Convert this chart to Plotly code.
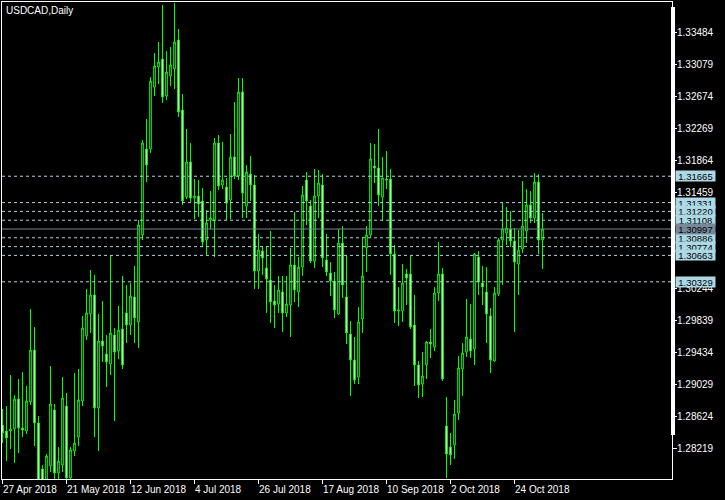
import plotly.graph_objects as go

# ---------------- data ----------------
symbol_title = "USDCAD,Daily"

opens = [1.28517, 1.28440, 1.28440, 1.28466, 1.28845, 1.28479, 1.28440, 1.28808, 1.29465, 1.28542,
         1.27959, 1.27769, 1.27997, 1.28706, 1.27909, 1.28010, 1.28757, 1.27846, 1.28187, 1.28364,
         1.28820, 1.29643, 1.29921, 1.30162, 1.28732, 1.29579, 1.29414, 1.29288, 1.29656, 1.29452,
         1.29731, 1.29934, 1.29782, 1.30136, 1.29820, 1.30921, 1.32009, 1.32009, 1.32793, 1.33047,
         1.33148, 1.32680, 1.32933, 1.33022, 1.33389, 1.32503, 1.31401, 1.31845, 1.31389, 1.31414,
         1.31351, 1.30858, 1.31111, 1.31098, 1.32085, 1.31554, 1.31528, 1.31364, 1.31908, 1.31667,
         1.32731, 1.31288, 1.31692, 1.31554, 1.30465, 1.30718, 1.30503, 1.30351, 1.30085, 1.30047,
         1.30200, 1.29934, 1.30035, 1.30541, 1.30200, 1.30515, 1.31617, 1.31288, 1.30591, 1.31414,
         1.31554, 1.30604, 1.30440, 1.30338, 1.29921, 1.30820, 1.30136, 1.29668, 1.29339, 1.29123,
         1.29858, 1.30757, 1.30921, 1.31794, 1.31769, 1.31401, 1.31629, 1.31629, 1.30680, 1.29959,
         1.29959, 1.30427, 1.30427, 1.29782, 1.29276, 1.29035, 1.29276, 1.29567, 1.29503, 1.30187,
         1.30427, 1.28504, 1.28237, 1.28263, 1.28668, 1.29225, 1.29440, 1.29605, 1.29478, 1.30642,
         1.30313, 1.30200, 1.29896, 1.29326, 1.30174, 1.30858, 1.30946, 1.30997, 1.30845, 1.30553,
         1.30744, 1.30971, 1.31301, 1.31136, 1.31592, 1.30858]

highs = [1.28719, 1.28757, 1.29149, 1.28896, 1.29098, 1.29187, 1.29010, 1.29984, 1.29756, 1.28630,
         1.28010, 1.28149, 1.29263, 1.28782, 1.28237, 1.29123, 1.28921, 1.28237, 1.29174, 1.29225,
         1.29896, 1.30237, 1.30478, 1.30415, 1.29921, 1.30085, 1.29656, 1.30668, 1.29744, 1.30022,
         1.30402, 1.30288, 1.30313, 1.30528, 1.31111, 1.32123, 1.32389, 1.32920, 1.33224, 1.33364,
         1.33832, 1.33249, 1.33300, 1.33857, 1.33528, 1.32705, 1.32262, 1.32085, 1.31629, 1.31617,
         1.31516, 1.31237, 1.31477, 1.32149, 1.32187, 1.32098, 1.31642, 1.32199, 1.32604, 1.32908,
         1.32908, 1.31807, 1.31921, 1.31680, 1.30933, 1.30782, 1.30782, 1.30971, 1.30288, 1.30402,
         1.30402, 1.30402, 1.30757, 1.31212, 1.30642, 1.31541, 1.31718, 1.31364, 1.31756, 1.31743,
         1.31692, 1.30933, 1.30579, 1.30453, 1.30997, 1.31035, 1.30668, 1.29832, 1.29630, 1.30009,
         1.30895, 1.31035, 1.32085, 1.32072, 1.32262, 1.31908, 1.31984, 1.31756, 1.30795, 1.30262,
         1.30553, 1.30491, 1.30655, 1.30162, 1.29326, 1.29440, 1.29579, 1.29731, 1.30262, 1.30833,
         1.30503, 1.28870, 1.28415, 1.28833, 1.29389, 1.29554, 1.30111, 1.30047, 1.30693, 1.30718,
         1.30528, 1.30515, 1.29997, 1.30262, 1.30883, 1.31326, 1.31275, 1.31224, 1.31010, 1.30984,
         1.31604, 1.31503, 1.31477, 1.31705, 1.31692, 1.31199]

lows = [1.28288, 1.28060, 1.28212, 1.28035, 1.28162, 1.28364, 1.28402, 1.28770, 1.28250, 1.27694,
        1.27669, 1.27694, 1.27922, 1.27795, 1.27795, 1.27922, 1.27769, 1.27795, 1.28124, 1.28250,
        1.28757, 1.29592, 1.29681, 1.28364, 1.28187, 1.29314, 1.28997, 1.29149, 1.28567, 1.29351,
        1.29225, 1.29554, 1.29656, 1.29554, 1.29491, 1.30858, 1.31592, 1.31959, 1.32680, 1.32831,
        1.32591, 1.32629, 1.32806, 1.32768, 1.32414, 1.31301, 1.31376, 1.31339, 1.31123, 1.31148,
        1.30769, 1.30668, 1.30997, 1.30642, 1.31490, 1.31503, 1.31111, 1.31123, 1.31629, 1.31617,
        1.31136, 1.31136, 1.31351, 1.30237, 1.30237, 1.30415, 1.29934, 1.29807, 1.29744, 1.29934,
        1.29694, 1.29883, 1.29630, 1.30073, 1.30009, 1.30402, 1.31048, 1.30566, 1.30503, 1.31136,
        1.30515, 1.30402, 1.30149, 1.29871, 1.29909, 1.30124, 1.29541, 1.28883, 1.29035, 1.29035,
        1.29681, 1.30453, 1.30895, 1.31579, 1.31288, 1.31098, 1.31503, 1.30415, 1.29807, 1.29769,
        1.29820, 1.30035, 1.29731, 1.29010, 1.28858, 1.28870, 1.29098, 1.29364, 1.29452, 1.30085,
        1.29073, 1.27846, 1.28010, 1.28086, 1.28580, 1.28883, 1.29376, 1.29364, 1.29276, 1.30162,
        1.30035, 1.29554, 1.29174, 1.29314, 1.30149, 1.30288, 1.30795, 1.30769, 1.29694, 1.30162,
        1.30693, 1.30820, 1.31073, 1.31073, 1.30680, 1.30491]

closes = [1.28415, 1.28352, 1.28466, 1.28845, 1.28479, 1.28453, 1.28820, 1.29465, 1.28542, 1.27769,
          1.27795, 1.28124, 1.28782, 1.27909, 1.28060, 1.28858, 1.27846, 1.28200, 1.28288, 1.28833,
          1.29744, 1.29934, 1.30162, 1.28732, 1.29579, 1.29516, 1.29314, 1.29681, 1.29440, 1.29719,
          1.29276, 1.29782, 1.30149, 1.29871, 1.31048, 1.32085, 1.31807, 1.32869, 1.33060, 1.33111,
          1.32667, 1.32984, 1.33073, 1.33364, 1.32478, 1.31351, 1.31845, 1.31389, 1.31414, 1.31313,
          1.30833, 1.31073, 1.31136, 1.32085, 1.31541, 1.31617, 1.31326, 1.31908, 1.31667, 1.32731,
          1.31452, 1.31718, 1.31554, 1.30465, 1.30731, 1.30630, 1.30364, 1.30073, 1.30035, 1.30225,
          1.29934, 1.30047, 1.30541, 1.30225, 1.30515, 1.31427, 1.31351, 1.30591, 1.31414, 1.31579,
          1.30630, 1.30453, 1.30338, 1.29972, 1.30820, 1.30288, 1.29681, 1.29339, 1.29086, 1.29820,
          1.30402, 1.30921, 1.31883, 1.31769, 1.31427, 1.31642, 1.31617, 1.30680, 1.29959, 1.29972,
          1.30313, 1.30377, 1.29756, 1.29276, 1.29023, 1.29136, 1.29567, 1.29541, 1.30187, 1.30427,
          1.29098, 1.28149, 1.28137, 1.28655, 1.29238, 1.29427, 1.29630, 1.29452, 1.30680, 1.30326,
          1.30262, 1.29921, 1.29339, 1.30187, 1.30858, 1.30997, 1.31010, 1.30845, 1.30579, 1.30731,
          1.31035, 1.31301, 1.31136, 1.31592, 1.30858, 1.30997]

date_tick_bars = [0, 16, 32, 48, 64, 80, 96, 112, 128]
date_tick_labels = ["27 Apr 2018", "21 May 2018", "12 Jun 2018", "4 Jul 2018", "26 Jul 2018",
                    "17 Aug 2018", "10 Sep 2018", "2 Oct 2018", "24 Oct 2018"]

price_ticks = [1.33484, 1.33079, 1.32674, 1.32269, 1.31864, 1.31459,
               1.30244, 1.29839, 1.29434, 1.29029, 1.28624, 1.28219]
price_tick_labels = ["1.33484", "1.33079", "1.32674", "1.32269", "1.31864", "1.31459",
                     "1.30244", "1.29839", "1.29434", "1.29029", "1.28624", "1.28219"]

level_prices = [1.31665, 1.31331, 1.31220, 1.31108, 1.30886, 1.30774, 1.30663, 1.30329]
level_labels = ["1.31665", "1.31331", "1.31220", "1.31108", "1.30886", "1.30774", "1.30663", "1.30329"]
bid_price = 1.30997
bid_label = "1.30997"

y_range = [1.27833, 1.33870]
x_range = [-0.125, 167.375]

# ---------------- figure ----------------
FONT = "Liberation Sans, Arial, sans-serif"
GREEN = "#00FF00"
LEVEL_COLOR = "#ADD8E6"
BID_COLOR = "#778899"

bars = list(range(len(opens)))

fig = go.Figure()
fig.add_trace(go.Candlestick(
    x=bars, open=opens, high=highs, low=lows, close=closes,
    increasing=dict(line=dict(color=GREEN, width=1), fillcolor="black"),
    decreasing=dict(line=dict(color=GREEN, width=1), fillcolor="white"),
    whiskerwidth=0, hoverinfo="skip", showlegend=False,
))

shapes = []
for lv in level_prices:
    shapes.append(dict(type="line", xref="paper", yref="y", x0=0, x1=1, y0=lv, y1=lv,
                       line=dict(color=LEVEL_COLOR, width=1, dash="3px,3px"), layer="above"))
shapes.append(dict(type="line", xref="paper", yref="y", x0=0, x1=1, y0=bid_price, y1=bid_price,
                   line=dict(color=BID_COLOR, width=1), layer="above"))
# thick white bar along the price scale
shapes.append(dict(type="rect", xref="paper", yref="paper", x0=0.9985, x1=1.0045,
                   y0=0.0922, y1=0.9895, fillcolor="white", line=dict(width=0), layer="above"))

annotations = []
annotations.append(dict(text=symbol_title, xref="paper", yref="paper", x=0, y=1,
                        xanchor="left", yanchor="top", xshift=2, yshift=-1, showarrow=False,
                        font=dict(family=FONT, size=10, color="white")))
for b, lab in zip(date_tick_bars, date_tick_labels):
    annotations.append(dict(text=lab, xref="x", yref="paper", x=b, y=0,
                            xanchor="left", yanchor="middle", xshift=-2, yshift=-10,
                            showarrow=False, font=dict(family=FONT, size=10, color="white")))
for lv, lab in zip(level_prices, level_labels):
    annotations.append(dict(text=lab, xref="paper", yref="y", x=1, y=lv,
                            xanchor="left", yanchor="middle", xshift=3, showarrow=False,
                            width=39, height=10, borderpad=0, bgcolor=LEVEL_COLOR,
                            font=dict(family=FONT, size=9.5, color="black")))
annotations.append(dict(text=bid_label, xref="paper", yref="y", x=1, y=bid_price,
                        xanchor="left", yanchor="middle", xshift=3, showarrow=False,
                        width=39, height=10, borderpad=0, bgcolor=BID_COLOR,
                        font=dict(family=FONT, size=9.5, color="black")))

fig.update_layout(
    width=725, height=500, autosize=False,
    margin=dict(l=2, r=53, t=2, b=21, pad=0),
    paper_bgcolor="black", plot_bgcolor="black",
    boxgap=0.4,
    hovermode=False,
    shapes=shapes, annotations=annotations,
    xaxis=dict(range=x_range, showgrid=False, zeroline=False, rangeslider=dict(visible=False),
               tickmode="array", tickvals=date_tick_bars, showticklabels=False,
               ticks="outside", ticklen=4, tickcolor="white", tickwidth=1,
               showline=True, linecolor="white", linewidth=1, mirror=True, fixedrange=True),
    yaxis=dict(range=y_range, side="right", showgrid=False, zeroline=False,
               tickmode="array", tickvals=price_ticks, ticktext=price_tick_labels,
               ticks="outside", ticklen=4, tickcolor="white", tickwidth=1,
               ticklabelstandoff=-2,
               tickfont=dict(family=FONT, size=10, color="white"),
               showline=True, linecolor="white", linewidth=1, mirror=True, fixedrange=True),
)

fig.write_html("out.html", config={"displayModeBar": False},
               post_script="document.body.style.margin='0';document.body.style.background='black';")
